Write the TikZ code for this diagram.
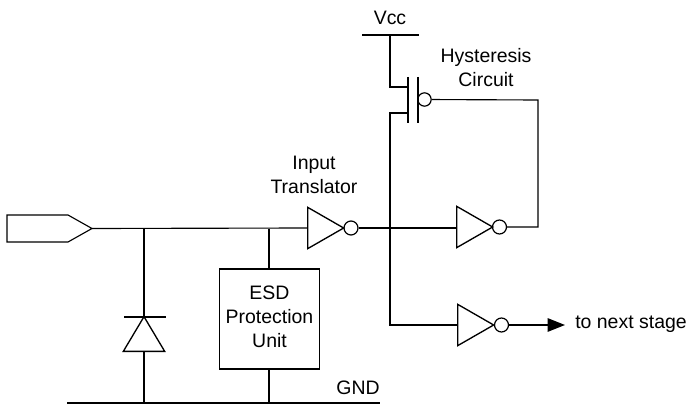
\documentclass[tikz,border=0pt]{standalone}
\usepackage{fontspec}
\setmainfont{Liberation Sans}
\usetikzlibrary{shapes.geometric,arrows.meta}
\begin{document}
\begin{tikzpicture}[x=0.75pt,y=-0.75pt]
        \tikzstyle{wire}=[draw, line width=0.85pt]
        \tikzstyle{wirethick}=[draw, line width=1.2pt]
        \tikzstyle{inverter}=[isosceles triangle,isosceles triangle stretches,draw,line width=1pt,inner sep=0pt,minimum height=27pt,minimum width=31pt,anchor=lower side]
        \tikzstyle{bubble}=[circle,draw,line width=0.9pt,inner sep=0pt,minimum size=10.5pt]
        \tikzstyle{label}=[font=\fontsize{14.6pt}{16.5pt}\selectfont,align=center,inner sep=0pt]
        \useasboundingbox (0,0) rectangle (688,406);
        % input pad and rails
        \coordinate (padtip) at (92,228.5);
        \draw [line width=0.85pt] (7,215) -- (68,215) -- (padtip) -- (68,242) -- (7,242) -- cycle;
        \coordinate (gndl) at (67,403);
        \coordinate (gndr) at (380,403);
        \coordinate (vccl) at (362,35);
        \coordinate (vccr) at (419,35);
        \coordinate (vccm) at (390,35);
        \path[wirethick] (gndl) -- (gndr);
        \path[wirethick] (vccl) -- (vccr);
        % inverters
        \node [inverter] (inva) at (307,228) {};
        \node [inverter] (invb) at (456,227) {};
        \node [inverter] (invc) at (457,325) {};
        \node [bubble] (buba) at (351,228) {};
        \node [bubble] (bubb) at (499.5,227) {};
        \node [bubble] (bubc) at (501.5,325) {};
        % diode
        \node [inverter,shape border rotate=90,minimum height=26pt,minimum width=31pt] (diode) at (144,352) {};
        \coordinate (dtop) at (144,317);
        \coordinate (dbarl) at (124,317);
        \coordinate (dbarr) at (166,317);
        \coordinate (dwire) at (144,228.5);
        \coordinate (dgnd) at (144,403);
        \path[wirethick] (dbarl) -- (dbarr);
        \path[wirethick] (dwire) -- (dtop);
        \path[wirethick] (diode.lower side) -- (dgnd);
        % esd unit
        \node [draw,line width=0.9pt,minimum width=75pt,minimum height=75pt,inner sep=0pt] (esd) at (269.5,319) {};
        \node [label] (esdtext) at (269.5,316.5) {ESD\\[1.5pt]Protection\\[1.5pt]Unit};
        \coordinate (esdwire) at (269,228.5);
        \coordinate (esdgnd) at (269,404);
        \path[wirethick] (esdwire) -- (esd.north -| esdwire);
        \path[wirethick] (esd.south -| esdgnd) -- (esdgnd);
        % pfet
        \coordinate (gatet) at (408,77);
        \coordinate (gateb) at (408,123);
        \coordinate (platet) at (418,77);
        \coordinate (plateb) at (418,123);
        \coordinate (drn) at (408,87);
        \coordinate (src) at (408,113);
        \coordinate (junc) at (390,228);
        \coordinate (feedr) at (538,100);
        \coordinate (feedb) at (538,227);
        \node [bubble,minimum size=10pt] (bubg) at (424.5,99.5) {};
        \path[wirethick] (gatet) -- (gateb);
        \path[wirethick] (platet) -- (plateb);
        \path[wirethick] (vccm) |- (drn);
        \path[wirethick] (src) -| (junc);
        \path[wirethick] (junc) |- (invc.lower side);
        % signal path
        \path[wire] (padtip) -- (inva.lower side);
        \path[wire] (buba) -- (invb.lower side |- buba);
        \path[wire] (bubb) -- (feedb) -- (feedr) -- (bubg);
        \node [label,anchor=west] (next) at (575,324) {to next stage};
        \coordinate (nextend) at (565,325);
        \draw [line width=1.2pt,-{Triangle[length=13pt,width=10pt]}] (bubc) -- (nextend);
        % labels
        \node [label] (vcc) at (390,18) {Vcc};
        \node [label] (hyst) at (486,67.5) {Hysteresis\\[1.5pt]Circuit};
        \node [label] (trans) at (314,175) {Input\\[1.5pt]Translator};
        \node [label] (gnd) at (358,388) {GND};
\end{tikzpicture}
\end{document}
